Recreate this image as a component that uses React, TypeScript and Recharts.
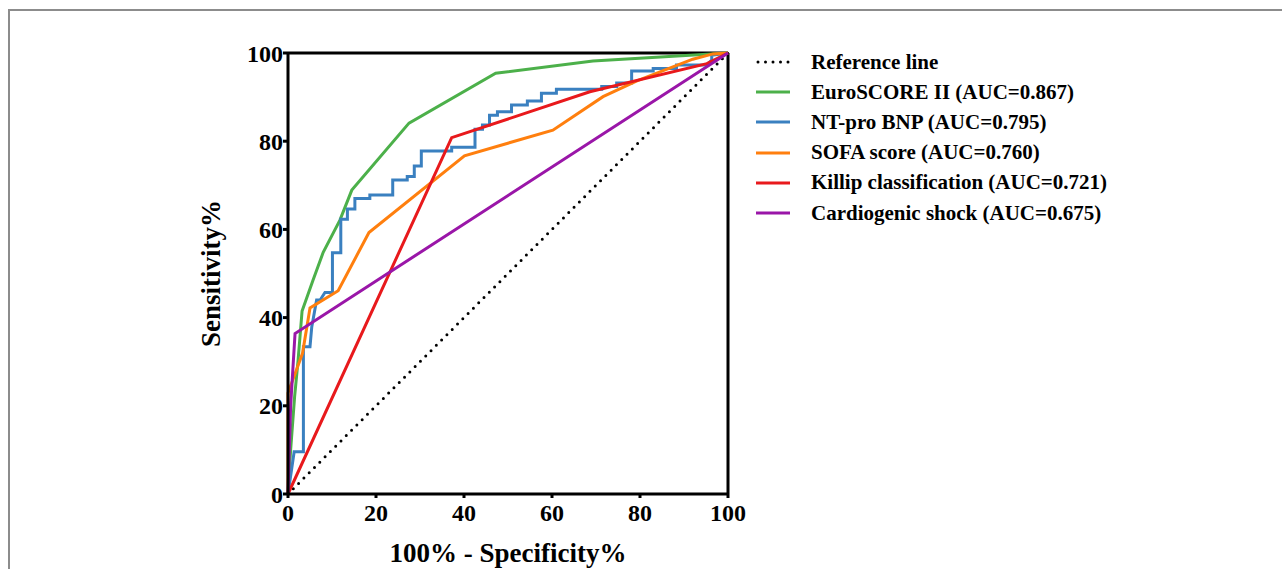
import React from 'react'
import { LineChart, Line, XAxis, YAxis, ReferenceLine, Label } from 'recharts'

// ROC curves, x = 100% - specificity, y = sensitivity
const ticks = [0, 20, 40, 60, 80, 100]

const referenceLine = [
  { x: 0, y: 0 },
  { x: 100, y: 100 },
]

const euroScore = [
  { x: 0, y: 0 },
  { x: 0.6, y: 10 },
  { x: 1.5, y: 22 },
  { x: 2.3, y: 30.4 },
  { x: 3.2, y: 41.5 },
  { x: 5.7, y: 48.5 },
  { x: 8, y: 54.8 },
  { x: 11.8, y: 62.1 },
  { x: 14.5, y: 68.9 },
  { x: 27.5, y: 84.1 },
  { x: 47.2, y: 95.4 },
  { x: 69.3, y: 98.2 },
  { x: 100, y: 100 },
]

const ntProBnp = [
  { x: 0, y: 0 }, { x: 1.4, y: 9.6 }, { x: 3.5, y: 9.6 }, { x: 3.5, y: 33.4 },
  { x: 5, y: 33.4 }, { x: 5.4, y: 37.9 }, { x: 6.5, y: 44 }, { x: 7.3, y: 44 },
  { x: 8.4, y: 45.7 }, { x: 10.1, y: 45.7 }, { x: 10.1, y: 54.7 }, { x: 12, y: 54.7 },
  { x: 12, y: 62.3 }, { x: 13.5, y: 62.3 }, { x: 13.5, y: 64.6 }, { x: 15.2, y: 64.6 },
  { x: 15.2, y: 67 }, { x: 18.6, y: 67 }, { x: 18.6, y: 67.8 }, { x: 23.8, y: 67.8 },
  { x: 23.8, y: 71.2 }, { x: 27.1, y: 71.2 }, { x: 27.1, y: 72 }, { x: 28.7, y: 72 },
  { x: 28.7, y: 74.4 }, { x: 30.3, y: 74.4 }, { x: 30.3, y: 77.8 }, { x: 37.2, y: 77.8 },
  { x: 37.2, y: 78.6 }, { x: 42.5, y: 78.6 }, { x: 42.5, y: 82.7 }, { x: 44.2, y: 82.7 },
  { x: 44.2, y: 83.7 }, { x: 45.8, y: 83.7 }, { x: 45.8, y: 85.9 }, { x: 47.6, y: 85.9 },
  { x: 47.6, y: 86.7 }, { x: 50.8, y: 86.7 }, { x: 50.8, y: 88.2 }, { x: 54.4, y: 88.2 },
  { x: 54.4, y: 89.1 }, { x: 57.6, y: 89.1 }, { x: 57.6, y: 90.9 }, { x: 61, y: 90.9 },
  { x: 61, y: 91.8 }, { x: 71.3, y: 91.8 }, { x: 71.3, y: 92.4 }, { x: 74.7, y: 92.4 },
  { x: 74.7, y: 93.2 }, { x: 78.1, y: 93.2 }, { x: 78.1, y: 95.9 }, { x: 83, y: 95.9 },
  { x: 83, y: 96.5 }, { x: 88.3, y: 96.5 }, { x: 88.3, y: 97.3 }, { x: 95.2, y: 97.3 },
  { x: 96.3, y: 98.4 }, { x: 96.3, y: 99.5 }, { x: 100, y: 100 },
]

const sofaScore = [
  { x: 0, y: 0 },
  { x: 0, y: 22.9 },
  { x: 3.3, y: 31.9 },
  { x: 5, y: 42.2 },
  { x: 11.4, y: 46.1 },
  { x: 18.4, y: 59.3 },
  { x: 40.1, y: 76.7 },
  { x: 60.2, y: 82.5 },
  { x: 71.6, y: 90.1 },
  { x: 79.3, y: 93.7 },
  { x: 92, y: 98.6 },
  { x: 96.6, y: 99.8 },
  { x: 100, y: 100 },
]

const killip = [
  { x: 0, y: 0 },
  { x: 37.2, y: 80.8 },
  { x: 68.6, y: 91.2 },
  { x: 95.2, y: 97.6 },
  { x: 100, y: 100 },
]

const shock = [
  { x: 0, y: 0 },
  { x: 0.6, y: 20 },
  { x: 1.6, y: 36.4 },
  { x: 100, y: 100 },
]

const series = [
  { name: 'EuroSCORE II (AUC=0.867)', data: euroScore, color: '#4cb04a' },
  { name: 'NT-pro BNP (AUC=0.795)', data: ntProBnp, color: '#3a80c0' },
  { name: 'SOFA score (AUC=0.760)', data: sofaScore, color: '#ff7f0e' },
  { name: 'Killip classification (AUC=0.721)', data: killip, color: '#e8191c' },
  { name: 'Cardiogenic shock (AUC=0.675)', data: shock, color: '#9a16a8' },
]

const font = '"Liberation Serif", "Times New Roman", serif'
const tickStyle = { fill: '#000', fontSize: 24, fontWeight: 700, fontFamily: font }
const labelStyle = { fill: '#000', fontSize: 27, fontWeight: 700, fontFamily: font }

function LegendBox() {
  return (
    <div
      style={{
        position: 'absolute',
        left: 754,
        top: 47,
        fontFamily: font,
        fontWeight: 700,
        fontSize: 21,
        color: '#000',
        whiteSpace: 'nowrap',
      }}
    >
      <div style={{ display: 'flex', alignItems: 'center', height: 30.2 }}>
        <svg width={57} height={10}>
          <line x1={4} y1={5} x2={36} y2={5} stroke="#000" strokeWidth={3} strokeDasharray="0 7.5" strokeLinecap="round" />
        </svg>
        <span>Reference line</span>
      </div>
      {series.map((s) => (
        <div key={s.name} style={{ display: 'flex', alignItems: 'center', height: 30.2 }}>
          <svg width={57} height={10}>
            <line x1={2} y1={5} x2={36} y2={5} stroke={s.color} strokeWidth={3} />
          </svg>
          <span>{s.name}</span>
        </div>
      ))}
    </div>
  )
}

export default function App() {
  return (
    <div style={{ position: 'absolute', left: 0, top: 0, width: 1282, height: 569, background: '#fff', overflow: 'hidden' }}>
      <div
        style={{
          position: 'absolute',
          left: 8,
          top: 9,
          width: 1300,
          height: 600,
          borderTop: '2px solid #8c8c8c',
          borderLeft: '2px solid #8c8c8c',
        }}
      />
      <div style={{ position: 'absolute', left: 0, top: 0 }}>
        <LineChart width={1282} height={569} margin={{ top: 53, right: 554, left: 0, bottom: 0 }}>
          <XAxis
            type="number"
            dataKey="x"
            domain={[0, 100]}
            ticks={ticks}
            height={75}
            allowDuplicatedCategory={false}
            axisLine={{ stroke: '#000', strokeWidth: 3 }}
            tickLine={{ stroke: '#000', strokeWidth: 3 }}
            tickSize={4}
            tickMargin={6}
            tick={tickStyle}
          >
            <Label value="100% - Specificity%" position="insideBottom" offset={7} style={labelStyle} />
          </XAxis>
          <YAxis
            type="number"
            dataKey="y"
            domain={[0, 100]}
            ticks={ticks}
            width={288}
            axisLine={{ stroke: '#000', strokeWidth: 3 }}
            tickLine={{ stroke: '#000', strokeWidth: 3 }}
            tickSize={5}
            tickMargin={0}
            tick={tickStyle}
          >
            <Label
              value="Sensitivity%"
              angle={-90}
              position="center"
              dx={66}
              style={{ ...labelStyle, textAnchor: 'middle' }}
            />
          </YAxis>
          <ReferenceLine y={100} stroke="#000" strokeWidth={3} />
          <ReferenceLine x={100} stroke="#000" strokeWidth={3} />
          <Line
            data={referenceLine}
            dataKey="y"
            type="linear"
            stroke="#000"
            strokeWidth={3}
            strokeDasharray="0 7.5"
            strokeLinecap="round"
            dot={false}
            isAnimationActive={false}
          />
          {series.map((s) => (
            <Line
              key={s.name}
              data={s.data}
              dataKey="y"
              name={s.name}
              type="linear"
              stroke={s.color}
              strokeWidth={3}
              dot={false}
              isAnimationActive={false}
            />
          ))}
        </LineChart>
      </div>
      <LegendBox />
    </div>
  )
}
